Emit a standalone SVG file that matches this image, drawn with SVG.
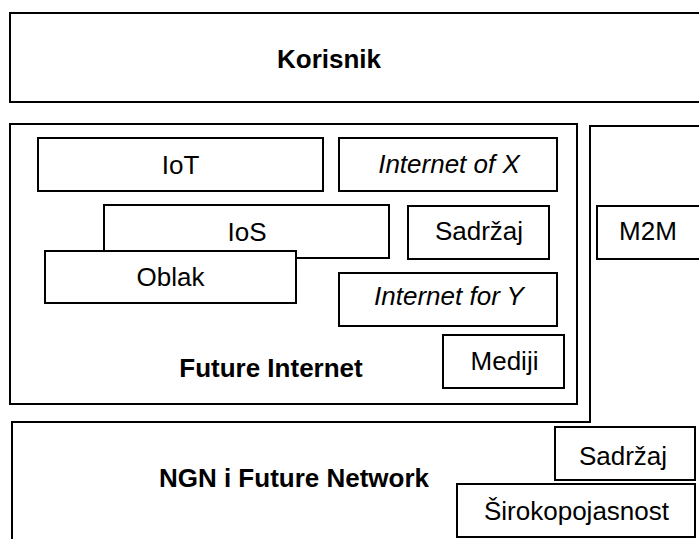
<svg xmlns="http://www.w3.org/2000/svg" width="699" height="539" viewBox="0 0 699 539">
  <style>
    .box { fill: #fff; stroke: #000; stroke-width: 2; }
    .frame { fill: none; stroke: #000; stroke-width: 2; }
    text { font-family: "Liberation Sans", Arial, sans-serif; font-size: 26px; fill: #000; text-anchor: middle; }
    .b { font-weight: bold; }
    .i { font-style: italic; }
  </style>

  <!-- top layer: user -->
  <g id="korisnik">
    <rect class="frame" x="10" y="13" width="700" height="89"/>
    <text class="b" x="329" y="68">Korisnik</text>
  </g>

  <!-- middle layer: Future Internet and its parts -->
  <g id="future-internet">
    <rect class="frame" x="10" y="124" width="567" height="280"/>
    <text class="b" x="271" y="377">Future Internet</text>
  </g>
  <g id="iot">
    <rect class="box" x="38" y="138" width="285" height="53"/>
    <text x="180.5" y="174">IoT</text>
  </g>
  <g id="internet-of-x">
    <rect class="box" x="339" y="138" width="218" height="53"/>
    <text class="i" x="449" y="173">Internet of X</text>
  </g>
  <g id="ios">
    <rect class="box" x="104" y="205" width="285" height="53"/>
    <text x="247" y="240.5">IoS</text>
  </g>
  <g id="oblak">
    <rect class="box" x="45" y="251" width="251" height="52"/>
    <text x="170.5" y="286">Oblak</text>
  </g>
  <g id="sadrzaj-fi">
    <rect class="box" x="408" y="206" width="141" height="53"/>
    <text x="479" y="240">Sadržaj</text>
  </g>
  <g id="internet-for-y">
    <rect class="box" x="339" y="273" width="218" height="53"/>
    <text class="i" x="449" y="305">Internet for Y</text>
  </g>
  <g id="mediji">
    <rect class="box" x="443" y="335" width="121" height="53"/>
    <text x="504.5" y="370">Mediji</text>
  </g>

  <!-- lower layer: NGN joined with the M2M column on the right -->
  <g id="ngn">
    <path class="frame" d="M12,545 V422 H590 V126 H710"/>
    <text class="b" x="294" y="486.5">NGN i Future Network</text>
  </g>
  <g id="m2m">
    <rect class="box" x="597" y="206" width="120" height="53"/>
    <text x="648" y="240">M2M</text>
  </g>
  <g id="sadrzaj-ngn">
    <rect class="box" x="555" y="427" width="140" height="53"/>
    <text x="623" y="465">Sadržaj</text>
  </g>
  <g id="sirokopojasnost">
    <rect class="box" x="457" y="484" width="238" height="53"/>
    <text x="576.5" y="520">Širokopojasnost</text>
  </g>

  <g id="connectors"/>
</svg>
